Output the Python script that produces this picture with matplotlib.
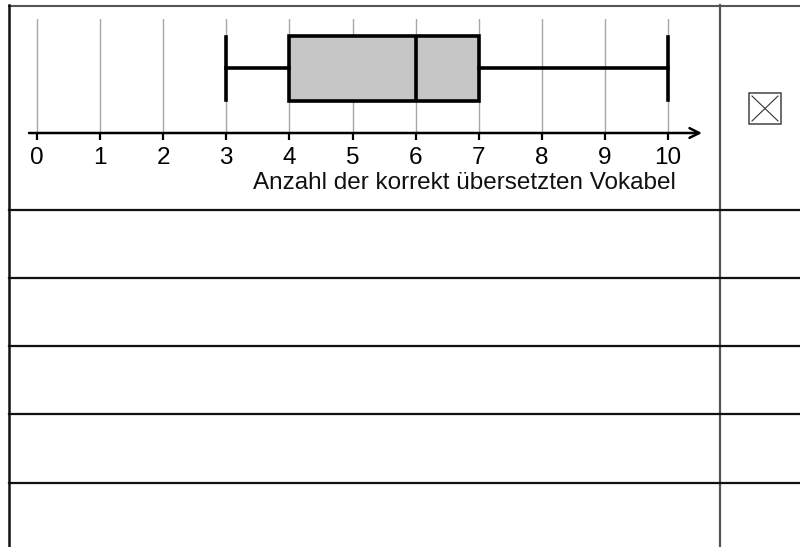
import matplotlib
matplotlib.use("Agg")
import matplotlib.pyplot as plt
from matplotlib.patches import Rectangle

plt.rcParams['font.family'] = ['Liberation Sans', 'DejaVu Sans']

# boxplot values
box_min = 3
box_q1 = 4
box_median = 6
box_q3 = 7
box_max = 10
tick_values = [0, 1, 2, 3, 4, 5, 6, 7, 8, 9, 10]
tick_labels = [str(v) for v in tick_values]
xlabel = 'Anzahl der korrekt übersetzten Vokabel'

# table layout (pixels)
row_lines = [210, 278, 346, 414, 483]
W, H = 800, 547

fig = plt.figure(figsize=(8, 5.47), dpi=100)

# background axes for the table grid, in pixel coordinates
bg = fig.add_axes([0, 0, 1, 1])
bg.set_xlim(0, W)
bg.set_ylim(H, 0)
bg.axis('off')
bg.plot([9, W], [5.5, 5.5], color='#555555', lw=1.5)
bg.plot([9, 9], [5, H], color='#111111', lw=1.8)
bg.plot([720, 720], [5, H], color='#555555', lw=1.6)
for y in row_lines:
    bg.plot([9, W], [y, y], color='#111111', lw=1.6)

# checkbox with a cross
bg.add_patch(Rectangle((749, 93), 32, 31, fill=False, edgecolor='#444444', lw=1.1))
bg.plot([752, 778], [96, 121], color='#333333', lw=0.8)
bg.plot([752, 778], [121, 96], color='#333333', lw=0.8)

# boxplot axes: 0 -> 37px, 10 -> 668px
px_per_unit = (668 - 37) / 10
x_left, x_right = 29, 702
y_top, y_axis = 19, 133
ax = fig.add_axes([x_left / W, 1 - y_axis / H, (x_right - x_left) / W, (y_axis - y_top) / H])
ax.patch.set_alpha(0)
ax.set_xlim((x_left - 37) / px_per_unit, (x_right - 37) / px_per_unit)
ax.set_ylim(0, 1)

stats = [{'whislo': box_min, 'q1': box_q1, 'med': box_median, 'q3': box_q3, 'whishi': box_max}]
ax.bxp(stats, positions=[0.566], widths=0.57, capwidths=0.55, orientation='horizontal',
       patch_artist=True, showfliers=False,
       boxprops=dict(facecolor='#c6c6c6', edgecolor='black', lw=2.6),
       medianprops=dict(color='black', lw=2.6),
       whiskerprops=dict(color='black', lw=2.6),
       capprops=dict(color='black', lw=2.6))

for s in ax.spines.values():
    s.set_visible(False)
ax.set_yticks([])
ax.set_xticks(tick_values)
ax.set_xticklabels(tick_labels, fontsize=17.5, color='#111111')
ax.tick_params(axis='x', direction='out', length=5, width=1.6, pad=5, colors='black')
ax.grid(axis='x', color='#a8a8a8', lw=1.0)
ax.set_axisbelow(True)
ax.set_ylim(0, 1)

# axis line with open arrow head
ax.annotate('', xy=(1, 0), xytext=(0, 0), xycoords='axes fraction',
            arrowprops=dict(arrowstyle='->,head_length=0.7,head_width=0.35', lw=1.8, color='black',
                            shrinkA=0, shrinkB=0))

fig.text(676 / W, 1 - 183 / H, xlabel, ha='right', va='center', fontsize=17.5, color='#111111')

fig.savefig('out.png', dpi=100)
